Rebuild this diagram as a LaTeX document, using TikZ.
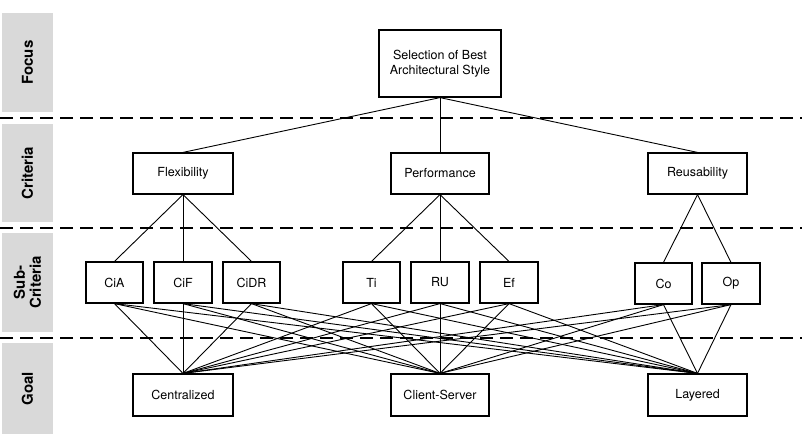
\documentclass[tikz,border=0pt]{standalone}
\usepackage{fontspec}
\setmainfont{TeX Gyre Heros}
\begin{document}
\begin{tikzpicture}[x=1pt,y=-1pt,
  box/.style={draw,line width=1.2pt,fill=white,inner sep=0pt,align=center,font=\fontsize{12.5}{14.5}\selectfont},
  band/.style={fill=black!15,draw=none},
  bandlbl/.style={rotate=90,font=\bfseries\fontsize{15}{16}\selectfont,align=center},
  sep/.style={line width=2.6pt,dash pattern=on 13pt off 7pt},
  lnk/.style={line width=0.9pt}]
\useasboundingbox (0,0) rectangle (802,436);
% bands
\fill[band] (2,13) rectangle (53,112);
\fill[band] (2,124) rectangle (53,222);
\fill[band] (2,233) rectangle (53,332);
\fill[band] (2,343) rectangle (53,434);
\node[bandlbl] (lf) at (27.5,62.5) {Focus};
\node[bandlbl] (lc) at (27.5,173) {Criteria};
\node[bandlbl] (ls) at (27.5,282.5) {Sub-\\Criteria};
\node[bandlbl] (lg) at (27.5,388.5) {Goal};
% separators
\coordinate (s1a) at (0,118); \coordinate (s1b) at (802,118);
\coordinate (s2a) at (0,228); \coordinate (s2b) at (802,228);
\coordinate (s3a) at (0,338); \coordinate (s3b) at (802,338);
% nodes
\node[box,minimum width=122pt,minimum height=67pt] (top) at (440,63.5) {Selection of Best\\Architectural Style};
\node[box,minimum width=100pt,minimum height=41pt] (flex) at (183,173.5) {Flexibility};
\node[box,minimum width=98pt,minimum height=41pt] (perf) at (440,173.5) {Performance};
\node[box,minimum width=99pt,minimum height=41pt] (reus) at (697.5,173.5) {Reusability};
\node[box,minimum width=57pt,minimum height=41pt] (cia) at (114.5,282.5) {CiA};
\node[box,minimum width=57pt,minimum height=41pt] (cif) at (183,282.5) {CiF};
\node[box,minimum width=57pt,minimum height=41pt] (cidr) at (251.5,282.5) {CiDR};
\node[box,minimum width=57pt,minimum height=41pt] (ti) at (371.5,282.5) {Ti};
\node[box,minimum width=57pt,minimum height=41pt] (ru) at (440,282.5) {RU};
\node[box,minimum width=57pt,minimum height=41pt] (ef) at (509,282.5) {Ef};
\node[box,minimum width=57pt,minimum height=41pt] (co) at (663.5,283.5) {Co};
\node[box,minimum width=57pt,minimum height=41pt] (op) at (731,283.5) {Op};
\node[box,minimum width=99pt,minimum height=42pt] (cen) at (183,395) {Centralized};
\node[box,minimum width=98pt,minimum height=42pt] (cs) at (440,395) {Client-Server};
\node[box,minimum width=99pt,minimum height=42pt] (lay) at (697.5,395) {Layered};
% links
\begin{scope}[on background layer/.try]
\foreach \c in {flex,perf,reus} \draw[lnk] (top.south) -- (\c.north);
\foreach \s in {cia,cif,cidr} \draw[lnk] (flex.south) -- (\s.north);
\foreach \s in {ti,ru,ef} \draw[lnk] (perf.south) -- (\s.north);
\foreach \s in {co,op} \draw[lnk] (reus.south) -- (\s.north);
\foreach \s in {cia,cif,cidr,ti,ru,ef,co,op}
  \foreach \g in {cen,cs,lay}
    \draw[lnk] (\s.south) -- (\g.north);
\end{scope}
\draw[sep] (s1a) -- (s1b);
\draw[sep] (s2a) -- (s2b);
\draw[sep] (s3a) -- (s3b);
% redraw boxes on top
\foreach \n in {top,flex,perf,reus,cia,cif,cidr,ti,ru,ef,co,op,cen,cs,lay}
  \draw[line width=1.2pt] (\n.south west) rectangle (\n.north east);
\end{tikzpicture}
\end{document}
